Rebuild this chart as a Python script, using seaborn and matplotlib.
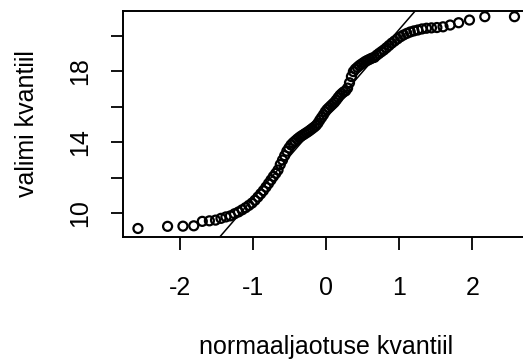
import numpy as np
import pandas as pd
import matplotlib
matplotlib.use("Agg")
import matplotlib.pyplot as plt
import seaborn as sns
from statistics import NormalDist

# sorted sample values (valimi kvantiilid), n = 100
sample_values = [
    9.15, 9.27, 9.28, 9.30, 9.55, 9.58, 9.62, 9.72, 9.80, 9.86,
    9.98, 10.08, 10.20, 10.32, 10.45, 10.58, 10.74, 10.92, 11.10, 11.28,
    11.48, 11.68, 11.88, 12.08, 12.25, 12.44, 12.75, 13.00, 13.25, 13.50,
    13.68, 13.85, 13.97, 14.07, 14.17, 14.26, 14.34, 14.41, 14.48, 14.55,
    14.62, 14.70, 14.78, 14.86, 14.95, 15.08, 15.25, 15.40, 15.55, 15.72,
    15.85, 15.95, 16.05, 16.15, 16.25, 16.38, 16.52, 16.65, 16.75, 16.84,
    16.90, 17.05, 17.35, 17.70, 17.98, 18.12, 18.22, 18.32, 18.40, 18.48,
    18.56, 18.62, 18.68, 18.74, 18.78, 18.90, 19.00, 19.10, 19.20, 19.32,
    19.45, 19.58, 19.70, 19.82, 19.94, 20.04, 20.13, 20.21, 20.27, 20.32,
    20.38, 20.42, 20.44, 20.46, 20.50, 20.60, 20.73, 20.88, 21.07, 21.07,
]
x_ticks = [-2, -1, 0, 1, 2]
y_ticks = [10, 12, 14, 16, 18, 20]
y_ticklabels = ["10", "", "14", "", "18", ""]
x_label = "normaaljaotuse kvantiil"
y_label = "valimi kvantiil"

n = len(sample_values)
nd = NormalDist()
theor = [nd.inv_cdf((i + 0.5) / n) for i in range(n)]
df = pd.DataFrame({"teoreetiline": theor, "valim": sample_values})

# qqline through quartiles
q1, q3 = np.percentile(sample_values, [25, 75])
z1, z3 = nd.inv_cdf(0.25), nd.inv_cdf(0.75)
slope = (q3 - q1) / (z3 - z1)
intercept = q1 - slope * z1

sns.set_style("white")
plt.rcParams["font.family"] = ["Liberation Sans", "DejaVu Sans"]

fig = plt.figure(figsize=(5.23, 3.63), dpi=100)
W, H = 523, 363
left, right, top, bottom = 123, 529.4, 11, 237
ax = fig.add_axes([left / W, 1 - bottom / H, (right - left) / W, (bottom - top) / H])

sns.scatterplot(data=df, x="teoreetiline", y="valim", ax=ax, marker="o",
                s=42, facecolor="none", edgecolor="black", linewidth=1.6, legend=False)
ax.axline((0, intercept), slope=slope, color="black", linewidth=1.1)

ax.set_xlim(-2.78, 2.78)
ax.set_ylim(8.67, 21.39)
ax.set_xticks(x_ticks)
ax.set_xticklabels([str(t) for t in x_ticks])
ax.set_yticks(y_ticks)
ax.set_yticklabels(y_ticklabels)

fs = 18
ax.tick_params(axis="both", direction="out", length=9, width=1.3, color="black",
               labelsize=fs, labelcolor="black", bottom=True, left=True)
ax.tick_params(axis="x", pad=19)
ax.tick_params(axis="y", pad=13)
for lab in ax.get_yticklabels():
    lab.set_rotation(90)
    lab.set_va("center")

for sp in ax.spines.values():
    sp.set_visible(True)
    sp.set_color("black")
    sp.set_linewidth(1.4)

ax.set_xlabel(x_label, fontsize=fs, color="black")
ax.set_ylabel(y_label, fontsize=fs, color="black")
ax.xaxis.set_label_coords(0.5, -0.485)
ax.xaxis.label.set_va("center")
ax.yaxis.set_label_coords((27 - left) / (right - left), 0.5)
ax.yaxis.label.set_va("center")

fig.savefig("out.png", dpi=100)
